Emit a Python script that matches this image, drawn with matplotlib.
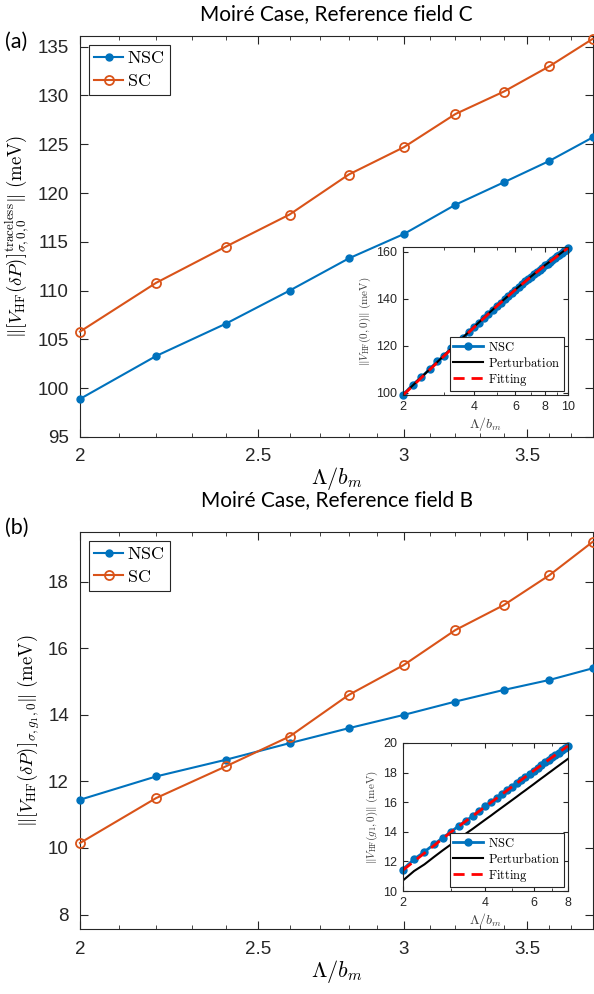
import numpy as np
import matplotlib
matplotlib.use('Agg')
import matplotlib.pyplot as plt
from matplotlib.ticker import FixedLocator, FixedFormatter, NullFormatter

plt.rcParams['mathtext.fontset'] = 'cm'
plt.rcParams['font.family'] = ['Liberation Sans', 'DejaVu Sans']

# main panels
lam = [2.0, 2.2, 2.4, 2.6, 2.8, 3.0, 3.2, 3.4, 3.6, 3.8]
nsc_a = [98.9, 103.3, 106.6, 110.0, 113.3, 115.8, 118.8, 121.1, 123.3, 125.7]
sc_a = [105.8, 110.8, 114.5, 117.8, 121.9, 124.7, 128.1, 130.4, 133.0, 135.8]
nsc_b = [11.45, 12.15, 12.65, 13.15, 13.60, 14.00, 14.40, 14.75, 15.05, 15.40]
sc_b = [10.15, 11.50, 12.45, 13.35, 14.60, 15.50, 16.55, 17.30, 18.20, 19.20]

# inset (a)
lam_ia = [2.0, 2.2, 2.4, 2.6, 2.8, 3.0, 3.2, 3.4, 3.6, 3.8, 4.0, 4.2, 4.4, 4.6,
          4.8, 5.0, 5.2, 5.4, 5.6, 5.8, 6.0, 6.2, 6.4, 6.6, 6.8, 7.0, 7.2, 7.4,
          7.6, 7.8, 8.0, 8.2, 8.4, 8.6, 8.8, 9.0, 9.2, 9.4, 9.6, 9.8, 10.0]
nsc_ia = [98.9, 103.3, 106.6, 110.0, 113.3, 115.8, 118.8, 121.1, 123.3, 125.7,
          127.8, 129.8, 131.7, 133.5, 135.2, 136.8, 138.3, 139.8, 141.2, 142.5,
          143.8, 145.0, 146.2, 147.3, 148.4, 149.4, 150.4, 151.4, 152.3, 153.2,
          154.1, 154.9, 155.7, 156.5, 157.3, 158.0, 158.7, 159.4, 160.1, 160.8, 161.5]
lam_fa = [2, 3, 4, 5, 6, 7, 8, 9, 10]
pert_ia = [99.0, 115.9, 127.9, 136.9, 143.9, 149.5, 154.2, 158.1, 161.6]
fit_ia = [98.8, 115.7, 127.7, 136.8, 143.8, 149.4, 154.1, 158.0, 161.5]

# inset (b)
lam_ib = [2.0, 2.2, 2.4, 2.6, 2.8, 3.0, 3.2, 3.4, 3.6, 3.8, 4.0, 4.2, 4.4, 4.6,
          4.8, 5.0, 5.2, 5.4, 5.6, 5.8, 6.0, 6.2, 6.4, 6.6, 6.8, 7.0, 7.2, 7.4,
          7.6, 7.8, 8.0]
nsc_ib = [11.45, 12.15, 12.65, 13.15, 13.60, 14.00, 14.40, 14.75, 15.05, 15.40,
          15.72, 16.00, 16.28, 16.55, 16.80, 17.05, 17.28, 17.50, 17.72, 17.93,
          18.13, 18.32, 18.51, 18.69, 18.86, 19.03, 19.19, 19.35, 19.50, 19.65, 19.80]
pert_ib = [10.70, 11.35, 11.80, 12.30, 12.75, 13.15, 13.52, 13.88, 14.20, 14.52,
           14.82, 15.10, 15.38, 15.64, 15.89, 16.13, 16.36, 16.59, 16.80, 17.01,
           17.21, 17.41, 17.60, 17.78, 17.96, 18.13, 18.30, 18.46, 18.62, 18.77, 18.92]
lam_fb = [2, 3, 4, 5, 6, 7, 8]
fit_ib = [11.40, 13.98, 15.70, 17.03, 18.12, 19.02, 19.80]

blue = '#0072BD'
orange = '#D95319'
axcol = '#262626'

fig = plt.figure(figsize=(5.94, 9.94), dpi=100)


def style(ax, lw=0.8):
    for s in ax.spines.values():
        s.set_color(axcol)
        s.set_linewidth(lw)
    ax.tick_params(which='both', direction='in', top=True, right=True, colors=axcol)


def main_panel(rect, nsc, sc, ylim, yticks, ylabel, title, tag, ty):
    ax = fig.add_axes(rect)
    ax.plot(lam, nsc, '-o', color=blue, lw=1.5, ms=5, label=r'$\mathrm{NSC}$', clip_on=False, zorder=3)
    ax.plot(lam, sc, '-o', color=orange, lw=1.5, ms=6.5, mfc='none', mew=1.3,
            label=r'$\mathrm{SC}$', clip_on=False, zorder=3)
    ax.set_xscale('log')
    ax.set_xlim(2, 3.8)
    ax.set_ylim(*ylim)
    ax.xaxis.set_major_locator(FixedLocator([2, 2.5, 3, 3.5]))
    ax.xaxis.set_major_formatter(FixedFormatter(['2', '2.5', '3', '3.5']))
    ax.xaxis.set_minor_locator(FixedLocator(np.arange(2.1, 3.8, 0.1)))
    ax.xaxis.set_minor_formatter(NullFormatter())
    ax.set_yticks(yticks)
    style(ax)
    ax.tick_params(which='major', length=6, labelsize=13.5, pad=8)
    ax.tick_params(which='minor', length=3)
    ax.set_xlabel(r'$\Lambda/b_m$', fontsize=16, labelpad=0)
    ax.set_ylabel(ylabel, fontsize=13.5, labelpad=4)
    leg = ax.legend(loc='upper left', fontsize=13, handlelength=1.6, handletextpad=0.2,
                    borderaxespad=0.5, fancybox=False, framealpha=1, borderpad=0.3,
                    labelspacing=0.3)
    leg.get_frame().set_edgecolor(axcol)
    leg.get_frame().set_linewidth(0.8)
    fig.text(0.567, ty, title, ha='center', va='center', fontsize=15, family='Lato')
    fig.text(0.008, ty - 0.028, tag, ha='left', va='center', fontsize=15.5, family='Lato')
    return ax


def inset(rect, xs, nsc, xf, pert, fit, xlim, xticks, ylim, yticks, ylabel):
    ax = fig.add_axes(rect)
    ax.plot(xs, nsc, '-o', color=blue, lw=2, ms=5, label=r'$\mathrm{NSC}$', clip_on=False)
    ax.plot(xs if len(pert) == len(xs) else xf, pert, '-', color='k', lw=1.5,
            label=r'$\mathrm{Perturbation}$')
    ax.plot(xf, fit, '--', color='#FF0000', lw=2, dashes=(4, 2.5), label=r'$\mathrm{Fitting}$')
    ax.set_xscale('log')
    ax.set_xlim(*xlim)
    ax.set_ylim(*ylim)
    ax.xaxis.set_major_locator(FixedLocator(xticks))
    ax.xaxis.set_major_formatter(FixedFormatter([str(t) for t in xticks]))
    ax.xaxis.set_minor_locator(FixedLocator([t for t in range(3, xlim[1]) if t not in xticks]))
    ax.xaxis.set_minor_formatter(NullFormatter())
    ax.set_yticks(yticks)
    style(ax)
    ax.tick_params(which='major', length=3.5, labelsize=9, pad=4)
    ax.tick_params(which='minor', length=2)
    ax.set_xlabel(r'$\Lambda/b_m$', fontsize=10, labelpad=2, color='#404040')
    ax.set_ylabel(ylabel, fontsize=8, labelpad=2, color='#404040')
    leg = ax.legend(loc='lower right', fontsize=9, handlelength=2.4, handletextpad=0.4,
                    borderaxespad=0.3, fancybox=False, framealpha=1, borderpad=0.3,
                    labelspacing=0.15)
    leg.get_frame().set_edgecolor(axcol)
    leg.get_frame().set_linewidth(0.8)
    return ax


main_panel([0.1347, 0.5604, 0.863, 0.4034], nsc_a, sc_a, (95, 136.1),
           [95, 100, 105, 110, 115, 120, 125, 130, 135],
           r'$\Vert[V_{\mathrm{HF}}(\delta P)]^{\mathrm{traceless}}_{\sigma,0,0}\Vert\ (\mathrm{meV})$',
           'Moiré Case, Reference field C', '(a)', 0.986)
main_panel([0.1347, 0.0649, 0.863, 0.400], nsc_b, sc_b, (7.55, 19.5),
           [8, 10, 12, 14, 16, 18],
           r'$\Vert[V_{\mathrm{HF}}(\delta P)]_{\sigma,g_1,0}\Vert\ (\mathrm{meV})$',
           'Moiré Case, Reference field B', '(b)', 0.497)

inset([0.678, 0.6026, 0.278, 0.149], lam_ia, nsc_ia, lam_fa, pert_ia, fit_ia,
      (2, 10), [2, 4, 6, 8, 10], (99, 162), [100, 120, 140, 160],
      r'$\Vert V_{\mathrm{HF}}(0,0)\Vert\ (\mathrm{meV})$')
inset([0.678, 0.1036, 0.278, 0.149], lam_ib, nsc_ib, lam_fb, pert_ib, fit_ib,
      (2, 8), [2, 4, 6, 8], (10, 20), [10, 12, 14, 16, 18, 20],
      r'$\Vert V_{\mathrm{HF}}(g_1,0)\Vert\ (\mathrm{meV})$')

fig.savefig('out.png', dpi=100)
